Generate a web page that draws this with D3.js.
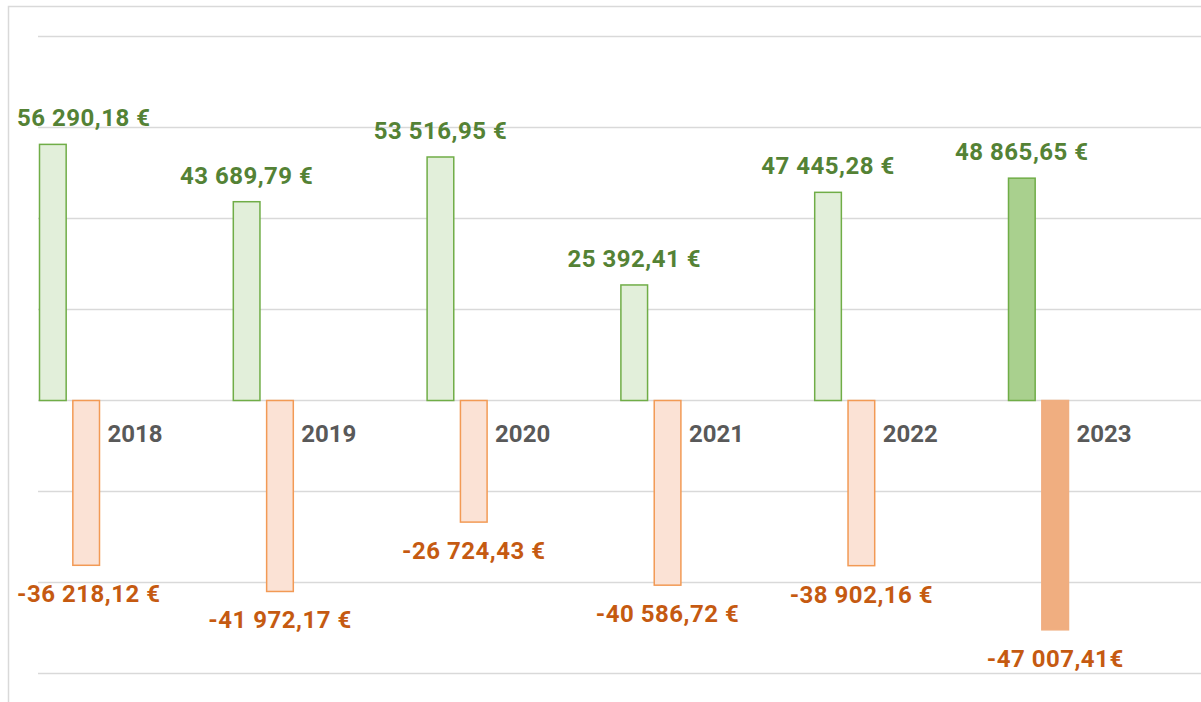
<!doctype html>
<html lang="en">

<head>
    <meta charset="utf-8">
    <title>d3 - income vs expenses by year</title>
    <script src="https://cdn.jsdelivr.net/npm/d3@7"></script>
    <style>
        body {
            margin: 0;
            background: #ffffff;
        }

        svg {
            display: block;
            font-family: Roboto, "Liberation Sans", sans-serif;
        }
    </style>
</head>

<body>
    <svg></svg>
    <script>
        var width = 1201;
        var height = 702;

        // data
        var years = ['2018', '2019', '2020', '2021', '2022', '2023'];
        var income = [56290.18, 43689.79, 53516.95, 25392.41, 45750, 48865.65];
        var expenses = [-36218.12, -41972.17, -26724.43, -40586.72, -36300, -50400];
        var incomeLabels = ['56 290,18 €', '43 689,79 €', '53 516,95 €', '25 392,41 €', '47 445,28 €', '48 865,65 €'];
        var expenseLabels = ['-36 218,12 €', '-41 972,17 €', '-26 724,43 €', '-40 586,72 €', '-38 902,16 €', '-47 007,41€'];
        var gridTicks = [-60000, -40000, -20000, 0, 20000, 40000, 60000, 80000];

        var svg = d3.select('svg').attr('width', width).attr('height', height);

        // chart frame (partly cropped)
        svg.append('path')
            .attr('d', 'M8.5,' + height + 'V6.5H' + width)
            .attr('fill', 'none')
            .attr('stroke', '#d9d9d9')
            .attr('stroke-width', 1.5);

        var xScale = d3.scaleBand()
            .domain(years)
            .range([-27.4, 1135.4])
            .padding(0);

        var subScale = d3.scaleBand()
            .domain(['inc', 'exp'])
            .range([-30, 30])
            .paddingInner(0.2);

        var yScale = d3.scaleLinear()
            .domain([-60000, 80000])
            .range([673.5, 36.5]);

        function center(y) { return xScale(y) + xScale.bandwidth() / 2; }

        //gridlines
        svg.append('g')
            .selectAll('line')
            .data(gridTicks)
            .enter()
            .append('line')
            .attr('x1', 38)
            .attr('x2', width)
            .attr('y1', function (d) { return yScale(d); })
            .attr('y2', function (d) { return yScale(d); })
            .attr('stroke', '#d9d9d9')
            .attr('stroke-width', 1.5);

        var rows = years.map(function (y, i) {
            return {
                year: y, inc: income[i], exp: expenses[i],
                incLabel: incomeLabels[i], expLabel: expenseLabels[i],
                last: i === years.length - 1
            };
        });

        // income bars
        svg.append('g')
            .selectAll('rect')
            .data(rows)
            .enter()
            .append('rect')
            .attr('x', function (d) { return center(d.year) + subScale('inc'); })
            .attr('width', subScale.bandwidth())
            .attr('y', function (d) { return yScale(d.inc); })
            .attr('height', function (d) { return yScale(0) - yScale(d.inc); })
            .attr('fill', function (d) { return d.last ? '#a9d08e' : '#e2efda'; })
            .attr('stroke', '#70ad47')
            .attr('stroke-width', 1.5);

        // expense bars
        svg.append('g')
            .selectAll('rect')
            .data(rows)
            .enter()
            .append('rect')
            .attr('x', function (d) { return center(d.year) + subScale('exp'); })
            .attr('width', subScale.bandwidth())
            .attr('y', yScale(0))
            .attr('height', function (d) { return yScale(d.exp) - yScale(0); })
            .attr('fill', function (d) { return d.last ? '#f0ae80' : '#fbe2d5'; })
            .attr('stroke', function (d) { return d.last ? '#f0ae80' : '#f29a55'; })
            .attr('stroke-width', 1.5);

        // keep labels inside the left edge, like the spreadsheet does
        function clampCenter(sel) {
            sel.each(function () {
                var t = d3.select(this);
                var w = this.getComputedTextLength();
                var cx = +t.attr('x');
                if (cx - w / 2 < 17) t.attr('x', 17 + w / 2);
            });
        }

        svg.append('g')
            .selectAll('text')
            .data(rows)
            .enter()
            .append('text')
            .attr('x', function (d) { return center(d.year) + subScale('inc') + subScale.bandwidth() / 2; })
            .attr('y', function (d) { return yScale(d.inc) - 18; })
            .attr('text-anchor', 'middle')
            .attr('font-size', 24)
            .attr('letter-spacing', 0.5)
            .attr('font-weight', 'bold')
            .attr('fill', '#548235')
            .text(function (d) { return d.incLabel; })
            .call(clampCenter);

        svg.append('g')
            .selectAll('text')
            .data(rows)
            .enter()
            .append('text')
            .attr('x', function (d) { return center(d.year) + subScale('exp') + subScale.bandwidth() / 2; })
            .attr('y', function (d) { return yScale(d.exp) + 37; })
            .attr('text-anchor', 'middle')
            .attr('font-size', 24)
            .attr('letter-spacing', 0.5)
            .attr('font-weight', 'bold')
            .attr('fill', '#c55a11')
            .text(function (d) { return d.expLabel; })
            .call(clampCenter);

        // year labels beside the expense bars
        svg.append('g')
            .selectAll('text')
            .data(rows)
            .enter()
            .append('text')
            .attr('x', function (d) { return center(d.year) + 30 + 8; })
            .attr('y', yScale(0) + 41)
            .attr('font-size', 24)
            .attr('font-weight', 'bold')
            .attr('fill', '#595959')
            .text(function (d) { return d.year; });

    </script>

</body>

</html>
